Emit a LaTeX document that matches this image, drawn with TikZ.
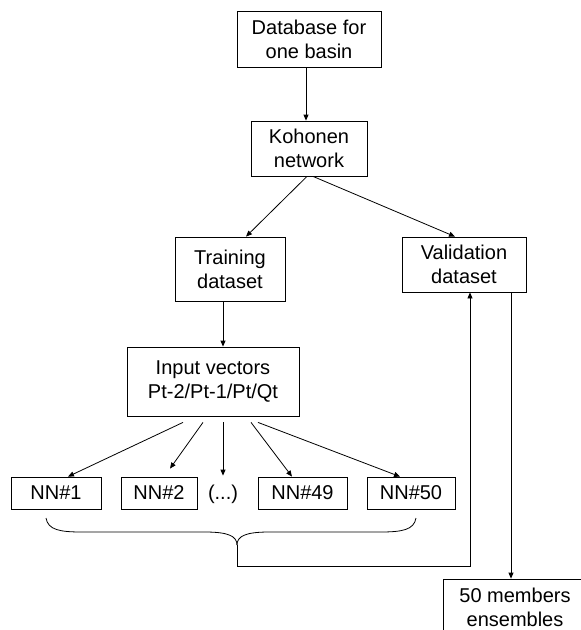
\documentclass[tikz,border=0pt]{standalone}
\usepackage{fontspec}
\setmainfont{Liberation Sans}
\usetikzlibrary{arrows.meta}

\begin{document}
\begin{tikzpicture}[x=1pt,y=-1pt,line width=0.8pt,
    box/.style={draw,align=center,inner sep=0pt,font=\fontsize{20}{24}\selectfont},
    nnbox/.style={box,minimum height=32pt},
    >={Triangle[length=6pt,width=5pt]}]
  \useasboundingbox (0,0) rectangle (581,630);

  \node[box,minimum width=144pt,minimum height=56pt] (db) at (309,39) {Database for\\one basin};
  \node[box,minimum width=116pt,minimum height=55pt] (koh) at (309,148.5) {Kohonen\\network};
  \node[box,minimum width=110pt,minimum height=64pt] (train) at (230,269) {Training\\dataset};
  \node[box,minimum width=124pt,minimum height=55pt] (valid) at (464,264.5) {Validation\\dataset};
  \node[box,minimum width=172pt,minimum height=69pt] (inp) at (213,381.5) {Input vectors\\Pt-2/Pt-1/Pt/Qt};

  \node[nnbox,minimum width=90pt] (nn1) at (56,493) {NN\#1};
  \node[nnbox,minimum width=76pt] (nn2) at (159,493) {NN\#2};
  \node[box,draw=none] (dots) at (223,494) {(...)};
  \node[nnbox,minimum width=89pt] (nn49) at (302.5,493) {NN\#49};
  \node[nnbox,minimum width=88pt] (nn50) at (411,493) {NN\#50};
  \node[box,minimum width=144pt,minimum height=56pt] (ens) at (515,607) {50 members\\ensembles};

  \draw[->] ([xshift=-3pt]db.south) -- ([xshift=-3pt]koh.north);
  \draw[->] ([xshift=-2pt]koh.south) -- ([xshift=16pt]train.north);
  \draw[->] ([xshift=4pt]koh.south) -- ([xshift=-9pt]valid.north);
  \draw[->] ([xshift=-7pt]train.south) -- ([xshift=-7pt]train.south |- inp.north);

  \draw[->] ([xshift=-30pt,yshift=-6pt]inp.south) -- ([xshift=12pt]nn1.north);
  \draw[->] ([xshift=-10pt,yshift=-6pt]inp.south) -- ([xshift=11pt,yshift=8pt]nn2.north);
  \draw[->] ([xshift=10pt,yshift=-6pt]inp.south) -- ([yshift=1pt]dots.north |- nn1.north);
  \draw[->] ([xshift=38pt,yshift=-6pt]inp.south) -- ([xshift=-10.5pt]nn49.north);
  \draw[->] ([xshift=45pt,yshift=-6pt]inp.south) -- ([xshift=-11pt]nn50.north);

  % brace under the networks
  \coordinate (tip) at (237,545);
  \draw (46,518) .. controls (48,530) and (60,532) .. (82,532) -- (205,532)
        .. controls (228,532) and (237,536) .. (tip);
  \draw (416,518) .. controls (414,530) and (402,532) .. (380,532) -- (269,532)
        .. controls (246,532) and (237,536) .. (tip);

  \coordinate (join) at (470,566);
  \draw[->] (tip) |- (join) -- (join |- valid.south);
  \draw[->] ([xshift=47pt]valid.south) -- ([xshift=47pt]valid.south |- ens.north);
\end{tikzpicture}
\end{document}
